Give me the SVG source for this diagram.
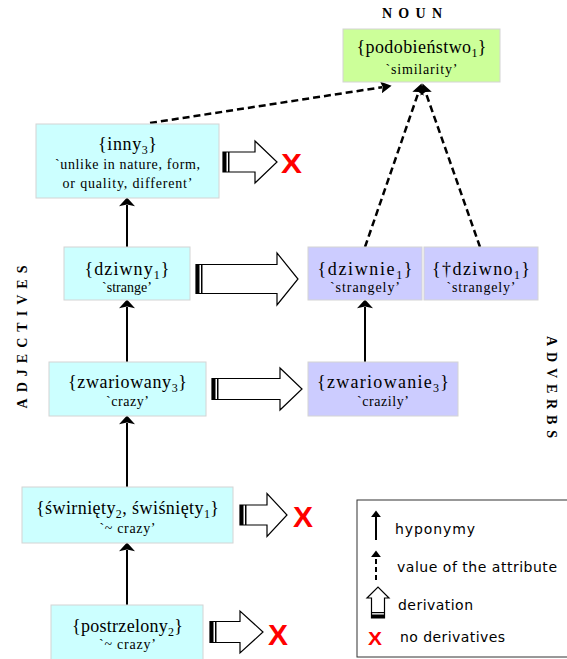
<svg xmlns="http://www.w3.org/2000/svg" width="567" height="659" viewBox="0 0 567 659">
<style>
.bg{fill:#ffffff}
.box{stroke:#d4d4d4;stroke-width:1}
.adj{fill:#ccffff}
.adv{fill:#ccccff}
.noun{fill:#ccff99}
.t1{font-family:"Liberation Serif","Times New Roman",serif;font-size:18px;fill:#000;text-anchor:middle}
.t2{font-family:"Liberation Serif","Times New Roman",serif;font-size:14px;fill:#000;text-anchor:middle}
.sub{font-size:12px}
.head{font-family:"Liberation Serif","Times New Roman",serif;font-size:14px;font-weight:bold;fill:#000;text-anchor:middle}
.hyp{stroke:#000;stroke-width:2;fill:none}
.attr{stroke:#000;stroke-width:2.5;fill:none;stroke-dasharray:7 4}
.der{fill:#fff;stroke:#000;stroke-width:1.2;stroke-linejoin:miter}
.tail{fill:#000}
.x{font-family:"Liberation Sans",Arial,sans-serif;font-weight:bold;fill:#ff0000}
.leg{font-family:"DejaVu Sans","Liberation Sans",sans-serif;font-size:14px;fill:#000}
</style>
<defs>
<marker id="mh" markerUnits="userSpaceOnUse" markerWidth="10" markerHeight="16" viewBox="0 0 8 14" refX="1" refY="7" orient="auto">
<path d="M0,0 L7.5,7 L0,14 L1.5,7 Z" fill="#000"/>
</marker>
<marker id="mhs" markerUnits="userSpaceOnUse" markerWidth="8" markerHeight="10" viewBox="0 0 7 9" refX="1" refY="4.5" orient="auto">
<path d="M0,0 L6,4.5 L0,9 Z" fill="#000"/>
</marker>
<marker id="ma" markerUnits="userSpaceOnUse" markerWidth="12" markerHeight="12" viewBox="0 0 10 10" refX="1" refY="5" orient="auto">
<path d="M0,0 L9,5 L0,10 L1.5,5 Z" fill="#000"/>
</marker>
</defs>
<rect class="bg" x="0" y="0" width="567" height="659"/>

<text class="head" x="412" y="18" textLength="60" lengthAdjust="spacing">NOUN</text>
<text class="head" transform="translate(27,337) rotate(-90)" x="0" y="0" textLength="143" lengthAdjust="spacing">ADJECTIVES</text>
<text class="head" transform="translate(547,387) rotate(90)" x="0" y="0" textLength="102" lengthAdjust="spacing">ADVERBS</text>

<g id="connectors">
<line class="hyp" x1="127" y1="605" x2="127" y2="550" marker-end="url(#mh)"/>
<line class="hyp" x1="127" y1="487" x2="127" y2="423" marker-end="url(#mh)"/>
<line class="hyp" x1="127" y1="362" x2="127" y2="307" marker-end="url(#mh)"/>
<line class="hyp" x1="127" y1="247" x2="127" y2="205" marker-end="url(#mh)"/>
<line class="hyp" x1="365" y1="362" x2="365" y2="307" marker-end="url(#mh)"/>
<line class="attr" x1="150" y1="123" x2="382.1" y2="87.2" marker-end="url(#ma)"/>
<line class="attr" x1="365" y1="247" x2="418.4" y2="92.6" marker-end="url(#ma)"/>
<line class="attr" x1="480" y1="247" x2="425.7" y2="92.5" marker-end="url(#ma)"/>
</g>

<g id="der-inny">
<path class="der" d="M223,152 L255,152 L255,141 L277,162 L255,183 L255,172 L223,172 Z"/>
<rect class="tail" x="223" y="152" width="3.5" height="20"/>
<rect class="tail" x="228" y="152" width="1.5" height="20"/>
</g>
<g id="der-dziwny">
<path class="der" d="M196,264.5 L277,264.5 L277,253 L298,279 L277,305 L277,293.5 L196,293.5 Z"/>
<rect class="tail" x="196" y="264.5" width="3.5" height="29"/>
<rect class="tail" x="201" y="264.5" width="1.5" height="29"/>
</g>
<g id="der-zwariowany">
<path class="der" d="M212,378.5 L280,378.5 L280,368 L302,389 L280,410 L280,399.5 L212,399.5 Z"/>
<rect class="tail" x="212" y="378.5" width="3.5" height="21"/>
<rect class="tail" x="217" y="378.5" width="1.5" height="21"/>
</g>
<g id="der-swirniety">
<path class="der" d="M240,505 L267,505 L267,493.5 L287,515 L267,536.5 L267,525 L240,525 Z"/>
<rect class="tail" x="240" y="505" width="3.5" height="20"/>
<rect class="tail" x="245" y="505" width="1.5" height="20"/>
</g>
<g id="der-postrzelony">
<path class="der" d="M210,621.5 L240,621.5 L240,611 L263,632 L240,653 L240,642.5 L210,642.5 Z"/>
<rect class="tail" x="210" y="621.5" width="3.5" height="21"/>
<rect class="tail" x="215" y="621.5" width="1.5" height="21"/>
</g>

<text class="x" x="281" y="173" font-size="27" textLength="21" lengthAdjust="spacingAndGlyphs">X</text>
<text class="x" x="293" y="527" font-size="29" textLength="20" lengthAdjust="spacingAndGlyphs">X</text>
<text class="x" x="268" y="645" font-size="30" textLength="20" lengthAdjust="spacingAndGlyphs">X</text>

<g id="podobienstwo">
<rect class="box noun" x="343" y="29" width="157" height="53"/>
<text class="t1" x="421.5" y="53" textLength="130" lengthAdjust="spacing">{podobieństwo<tspan class="sub" dy="4">1</tspan><tspan dy="-4">}</tspan></text>
<text class="t2" x="421.5" y="74" textLength="72" lengthAdjust="spacing">`similarity’</text>
</g>

<g id="inny">
<rect class="box adj" x="36" y="124" width="183" height="74"/>
<text class="t1" x="127.5" y="150" textLength="59" lengthAdjust="spacing">{inny<tspan class="sub" dy="4">3</tspan><tspan dy="-4">}</tspan></text>
<text class="t2" x="127.5" y="169" textLength="145" lengthAdjust="spacing">`unlike in nature, form,</text>
<text class="t2" x="127.5" y="188" textLength="130" lengthAdjust="spacing">or quality, different’</text>
</g>

<g id="dziwny">
<rect class="box adj" x="64" y="247" width="126" height="53"/>
<text class="t1" x="127" y="275" textLength="85" lengthAdjust="spacing">{dziwny<tspan class="sub" dy="4">1</tspan><tspan dy="-4">}</tspan></text>
<text class="t2" x="127" y="292" textLength="50" lengthAdjust="spacing">`strange’</text>
</g>

<g id="dziwnie">
<rect class="box adv" x="308" y="247" width="114" height="53"/>
<text class="t1" x="365" y="275" textLength="95" lengthAdjust="spacing">{dziwnie<tspan class="sub" dy="4">1</tspan><tspan dy="-4">}</tspan></text>
<text class="t2" x="365" y="292" textLength="70" lengthAdjust="spacing">`strangely’</text>
</g>

<g id="dziwno">
<rect class="box adv" x="424" y="247" width="114" height="53"/>
<text class="t1" x="481" y="275" textLength="98" lengthAdjust="spacing">{†dziwno<tspan class="sub" dy="4">1</tspan><tspan dy="-4">}</tspan></text>
<text class="t2" x="481" y="292" textLength="69" lengthAdjust="spacing">`strangely’</text>
</g>

<g id="zwariowany">
<rect class="box adj" x="49" y="362" width="157" height="54"/>
<text class="t1" x="127.5" y="388" textLength="119" lengthAdjust="spacing">{zwariowany<tspan class="sub" dy="4">3</tspan><tspan dy="-4">}</tspan></text>
<text class="t2" x="127.5" y="406" textLength="43" lengthAdjust="spacing">`crazy’</text>
</g>

<g id="zwariowanie">
<rect class="box adv" x="308" y="362" width="150" height="54"/>
<text class="t1" x="383" y="388" textLength="132" lengthAdjust="spacing">{zwariowanie<tspan class="sub" dy="4">3</tspan><tspan dy="-4">}</tspan></text>
<text class="t2" x="383" y="406" textLength="52" lengthAdjust="spacing">`crazily’</text>
</g>

<g id="swirniety">
<rect class="box adj" x="22" y="487" width="211" height="56"/>
<text class="t1" x="127.5" y="514" textLength="183" lengthAdjust="spacing">{świrnięty<tspan class="sub" dy="4">2</tspan><tspan dy="-4">, świśnięty</tspan><tspan class="sub" dy="4">1</tspan><tspan dy="-4">}</tspan></text>
<text class="t2" x="127.5" y="533" textLength="56" lengthAdjust="spacing">`~ crazy’</text>
</g>

<g id="postrzelony">
<rect class="box adj" x="51" y="605" width="152" height="60"/>
<text class="t1" x="127.5" y="632" textLength="111" lengthAdjust="spacing">{postrzelony<tspan class="sub" dy="4">2</tspan><tspan dy="-4">}</tspan></text>
<text class="t2" x="127.5" y="649" textLength="57" lengthAdjust="spacing">`~ crazy’</text>
</g>

<g id="legend">
<rect x="357" y="500" width="220" height="157" fill="none" stroke="#333" stroke-width="1"/>
<line x1="376" y1="540" x2="376" y2="516" stroke="#000" stroke-width="2" marker-end="url(#mhs)"/>
<text class="leg" x="395" y="534" textLength="80" lengthAdjust="spacing">hyponymy</text>
<line x1="376" y1="580" x2="376" y2="556" stroke="#000" stroke-width="2" stroke-dasharray="5 3" marker-end="url(#mhs)"/>
<text class="leg" x="397" y="572" textLength="160" lengthAdjust="spacing">value of the attribute</text>
<path class="der" d="M371.5,618 L371.5,598 L367,598 L378,587 L389,598 L384.5,598 L384.5,618 Z"/>
<rect class="tail" x="371.5" y="614.5" width="13" height="3.5"/>
<rect class="tail" x="371.5" y="612" width="13" height="1.2"/>
<text class="leg" x="398" y="610" textLength="75" lengthAdjust="spacing">derivation</text>
<text class="x" x="368" y="645" font-size="19" textLength="14" lengthAdjust="spacingAndGlyphs">X</text>
<text class="leg" x="400" y="642" textLength="105" lengthAdjust="spacing">no derivatives</text>
</g>
</svg>
